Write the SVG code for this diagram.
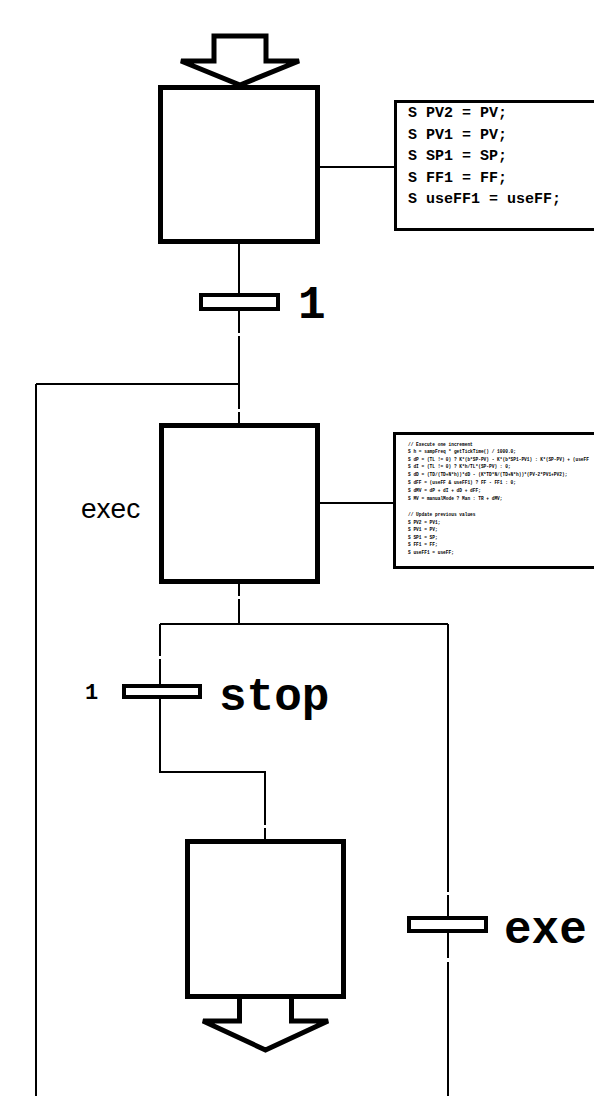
<svg xmlns="http://www.w3.org/2000/svg" width="594" height="1096" viewBox="0 0 594 1096">
<style>
.step{fill:#fff;stroke:#000;stroke-width:5}
.trans{fill:#fff;stroke:#000;stroke-width:4}
.act{fill:#fff;stroke:#000;stroke-width:3}
.link{fill:none;stroke:#000;stroke-width:2}
.arrow{fill:#fff;stroke:#000;stroke-width:5;stroke-linejoin:miter}
.code{font-family:"Liberation Mono","Courier New",monospace;font-weight:bold;fill:#000}
.big{font-size:46px}
.act1{font-size:15px}
.act2{font-size:4.5px}
.lbl{font-family:"Liberation Sans",Arial,sans-serif;font-size:28px;fill:#000}
</style>
<rect width="594" height="1096" fill="#fff"/>
<g id="connectors">
  <path class="link" d="M239 244V293M239 311V333M239 336V409M239 412V424"/>
  <path class="link" stroke-width="1.5" d="M36 384H239M36 384V1096"/>
  <path class="link" d="M239 584V596M239 599V624M160 624H448"/>
  <path class="link" d="M160 624V656M160 659V684M160 698V772H265V825M265 828V840"/>
  <path class="link" d="M448 624V892M448 895V916M448 933V958M448 962V1096"/>
  <path class="link" d="M320 167H394M320 503H393"/>
</g>
<g id="initial-arrow">
  <path class="arrow" d="M214 36H266V61H299L240 85L181 61H214Z"/>
</g>
<g id="step1">
  <rect class="step" x="160.5" y="87.5" width="157" height="154"/>
</g>
<g id="action1">
  <rect class="act" x="395.5" y="101.5" width="210" height="128"/>
  <text class="code act1" x="408" y="117">S PV2 = PV;</text>
  <text class="code act1" x="408" y="138.5">S PV1 = PV;</text>
  <text class="code act1" x="408" y="160">S SP1 = SP;</text>
  <text class="code act1" x="408" y="181.5">S FF1 = FF;</text>
  <text class="code act1" x="408" y="203">S useFF1 = useFF;</text>
</g>
<g id="t1">
  <rect class="trans" x="201" y="295" width="77" height="14"/>
  <text class="code big" x="298" y="318">1</text>
</g>
<g id="step2">
  <rect class="step" x="161.5" y="425.5" width="156" height="156"/>
  <text class="lbl" x="81" y="518">exec</text>
</g>
<g id="action2">
  <rect class="act" x="394.5" y="433.5" width="210" height="134"/>
  <text class="code act2" x="408" y="445.5">// Execute one increment</text>
  <text class="code act2" x="408" y="453.2">S h = sampFreq * getTickTime() / 1000.0;</text>
  <text class="code act2" x="408" y="460.8">S dP = (TL != 0) ? K*(b*SP-PV) - K*(b*SP1-PV1) : K*(SP-PV) + (useFF</text>
  <text class="code act2" x="408" y="468.4">S dI = (TL != 0) ? K*h/TL*(SP-PV) : 0;</text>
  <text class="code act2" x="408" y="476">S dD = (TD/(TD+N*h))*dD - (K*TD*N/(TD+N*h))*(PV-2*PV1+PV2);</text>
  <text class="code act2" x="408" y="484.3">S dFF = (useFF &amp; useFF1) ? FF - FF1 : 0;</text>
  <text class="code act2" x="408" y="491.9">S dMV = dP + dI + dD + dFF;</text>
  <text class="code act2" x="408" y="499.5">S MV = manualMode ? Man : TR + dMV;</text>
  <text class="code act2" x="408" y="515.5">// Update previous values</text>
  <text class="code act2" x="408" y="523.5">S PV2 = PV1;</text>
  <text class="code act2" x="408" y="531.1">S PV1 = PV;</text>
  <text class="code act2" x="408" y="538.7">S SP1 = SP;</text>
  <text class="code act2" x="408" y="546.3">S FF1 = FF;</text>
  <text class="code act2" x="408" y="553.9">S useFF1 = useFF;</text>
</g>
<g id="t2">
  <rect class="trans" x="124" y="686" width="76" height="11"/>
  <text class="code" font-size="22" x="85" y="699">1</text>
  <text class="code big" x="219" y="710">stop</text>
</g>
<g id="step3">
  <rect class="step" x="187.5" y="841.5" width="156" height="155"/>
  <path class="arrow" d="M239.5 999V1021H203L265.5 1050L328 1021H291.5V999"/>
</g>
<g id="t3">
  <rect class="trans" x="409" y="918" width="77" height="13"/>
  <text class="code big" x="504" y="943">exe</text>
</g>
</svg>
